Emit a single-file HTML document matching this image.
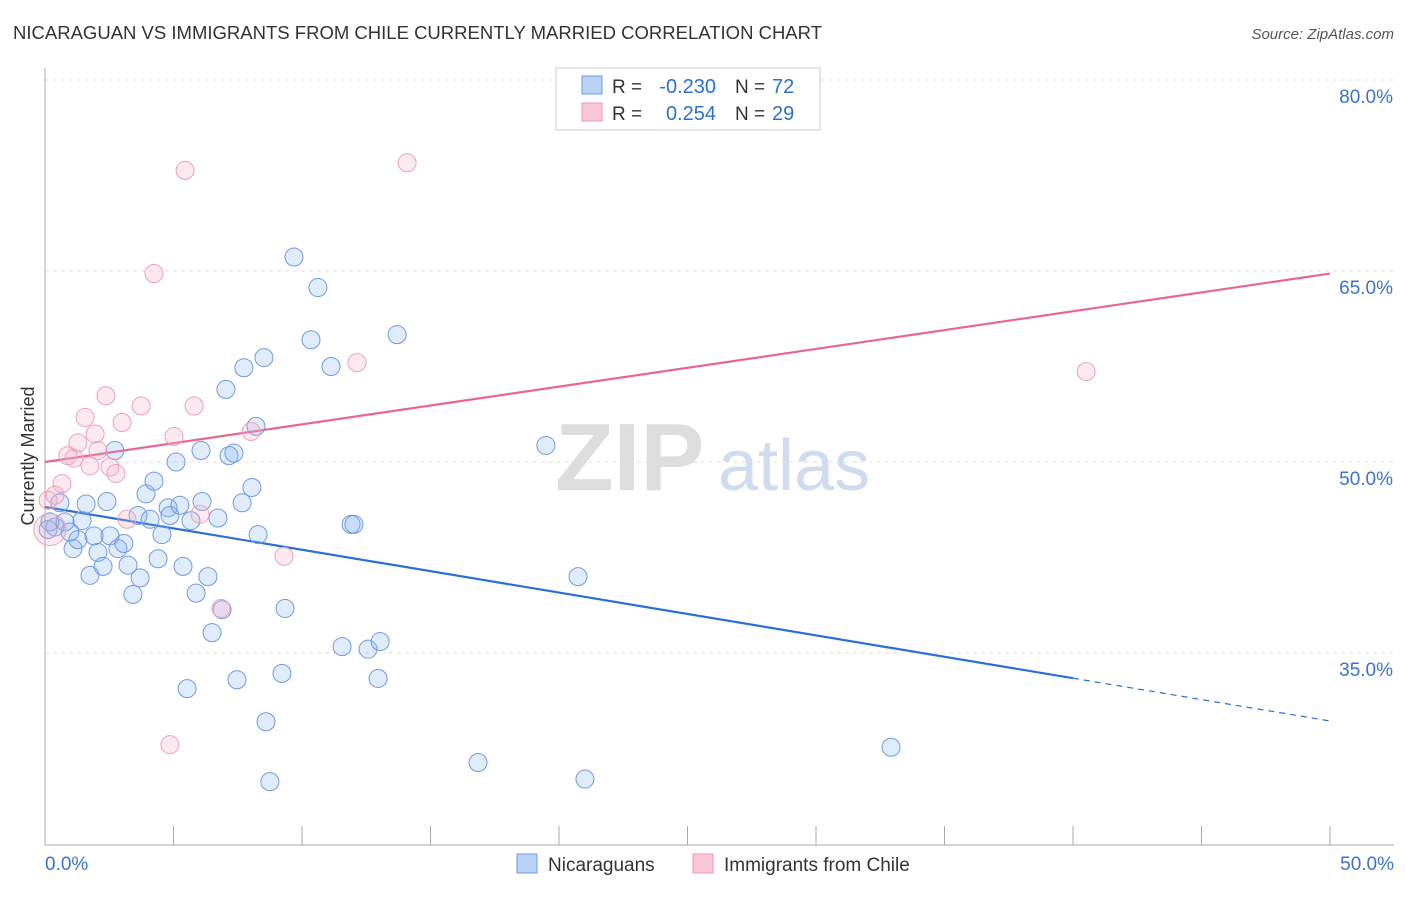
<!DOCTYPE html>
<html><head><meta charset="utf-8"><style>
body{margin:0;background:#fff;font-family:"Liberation Sans",sans-serif;}
svg text{font-family:"Liberation Sans",sans-serif;}
</style></head><body>
<svg id="chart" width="1406" height="892" xmlns="http://www.w3.org/2000/svg">
<text x="13" y="39" font-size="18" fill="#333" textLength="809" lengthAdjust="spacingAndGlyphs">NICARAGUAN VS IMMIGRANTS FROM CHILE CURRENTLY MARRIED CORRELATION CHART</text>
<text x="1394" y="39" font-size="15" fill="#555" text-anchor="end" font-style="italic">Source: ZipAtlas.com</text>
<g>
<text x="555" y="490" font-size="96" fill="#ddd" font-family="Liberation Serif" font-weight="bold">ZIP</text>
<text x="718" y="490" font-size="72" fill="#cfdcef">atlas</text>
</g>
<g id="grid"></g>
<g id="axes"></g>
<g id="lines"></g>
<g id="points"></g>
<text transform="translate(34,456) rotate(-90)" font-size="18" fill="#333" text-anchor="middle">Currently Married</text>
<g>
<rect x="556" y="68" width="264" height="62" fill="#fff" stroke="#ccc"/>
<rect x="582" y="76" width="20" height="18" fill="#b9d2f5" stroke="#6f9be0"/>
<rect x="582" y="103" width="20" height="18" fill="#f9c6d5" stroke="#eb9ab3"/>
<text x="612" y="93" font-size="19" fill="#333">R =</text>
<text x="716" y="93" font-size="20" fill="#2a6fd6" text-anchor="end">-0.230</text>
<text x="735" y="93" font-size="19" fill="#333">N =</text>
<text x="772" y="93" font-size="20" fill="#2a6fd6">72</text>
<text x="612" y="120" font-size="19" fill="#333">R =</text>
<text x="716" y="120" font-size="20" fill="#2a6fd6" text-anchor="end">0.254</text>
<text x="735" y="120" font-size="19" fill="#333">N =</text>
<text x="772" y="120" font-size="20" fill="#2a6fd6">29</text>
</g>
<g>
<rect x="517" y="854" width="20" height="19" fill="#b9d2f5" stroke="#6f9be0"/>
<text x="548" y="871" font-size="19" fill="#333">Nicaraguans</text>
<rect x="693" y="854" width="20" height="19" fill="#f9c6d5" stroke="#eb9ab3"/>
<text x="724" y="871" font-size="19" fill="#333">Immigrants from Chile</text>
</g>
</svg>
<script>
const yTicks=[80,65,50,35];
const yTickLabels=["80.0%","65.0%","50.0%","35.0%"];
const xTickLabels=["0.0%","50.0%"];
const blueX=[0.39,0.58,0.78,0.97,1.09,1.28,1.44,1.60,1.75,1.91,2.06,2.26,2.41,2.53,2.72,2.84,3.07,3.23,3.42,3.70,3.62,3.93,4.09,4.24,4.40,4.55,4.79,4.86,5.10,5.25,5.37,5.53,5.68,5.88,6.07,6.11,6.34,6.50,6.73,6.89,7.04,7.16,7.35,7.47,7.67,7.74,8.05,8.21,8.29,8.52,8.60,8.75,9.22,9.34,9.69,10.35,10.62,11.13,11.56,11.91,12.02,12.57,12.96,13.04,13.70,16.85,19.49,20.74,21.01,32.92,0.19,0.12];
const blueY=[44.9,46.8,45.3,44.5,43.2,43.9,45.4,46.7,41.1,44.2,42.9,41.8,46.9,44.2,50.9,43.2,43.6,41.9,39.6,40.9,45.8,47.5,45.5,48.5,42.4,44.3,46.4,45.8,50.0,46.6,41.8,32.2,45.4,39.7,50.9,46.9,41.0,36.6,45.6,38.4,55.7,50.5,50.7,32.9,46.8,57.4,48.0,52.8,44.3,58.2,29.6,24.9,33.4,38.5,66.1,59.6,63.7,57.5,35.5,45.1,45.1,35.3,33.0,35.9,60.0,26.4,51.3,41.0,25.1,27.6,45.3,44.7];
const pinkX=[0.19,0.39,0.66,0.89,1.13,1.28,1.56,1.75,1.95,2.06,2.37,2.53,2.76,3.00,3.19,3.74,4.24,5.02,4.86,5.45,5.80,6.03,6.85,8.02,9.30,12.14,14.09,40.51,0.12];
const pinkY=[44.7,47.4,48.3,50.5,50.3,51.5,53.5,49.7,52.2,50.9,55.2,49.6,49.1,53.1,45.5,54.4,64.8,52.0,27.8,72.9,54.4,45.9,38.5,52.4,42.6,57.8,73.5,57.1,47.0];
const blueTrend=[46.47,29.66];
const pinkTrend=[50.0,64.8];
const NS="http://www.w3.org/2000/svg";
const X=v=>45+v*25.7;
const Y=v=>80+(80-v)*191/15;
function mk(tag,attrs,parent){const e=document.createElementNS(NS,tag);for(const k in attrs)e.setAttribute(k,attrs[k]);parent.appendChild(e);return e;}
const grid=document.getElementById('grid'),axes=document.getElementById('axes'),lines=document.getElementById('lines'),pts=document.getElementById('points');
yTicks.forEach((t,i)=>{
 const l=mk('line',{x1:45,x2:1394,y1:Y(t),y2:Y(t),stroke:'#ddd','stroke-dasharray':'4,4'},grid);
 
 
 const tx=mk('text',{x:1393,y:Y(t)+23,'font-size':19,fill:'#3b73d1','text-anchor':'end'},grid);
 tx.textContent=yTickLabels[i];
 
 
});
mk('line',{x1:45,x2:45,y1:68,y2:845,stroke:'#aaa'},axes);
mk('line',{x1:45,x2:1394,y1:845,y2:845,stroke:'#aaa'},axes);
for(let i=0;i<=10;i++){const t=mk('line',{x1:X(i*5),x2:X(i*5),y1:826,y2:845,stroke:'#aaa'},axes);
 
 }
const xl0=mk('text',{x:45,y:870,'font-size':19,fill:'#3b73d1'},axes);xl0.textContent=xTickLabels[0];


const xl1=mk('text',{x:1394,y:870,'font-size':19,fill:'#3b73d1','text-anchor':'end'},axes);xl1.textContent=xTickLabels[1];


function drawPts(xs,ys,fill,stroke,name){xs.forEach((x,i)=>{const c=mk('circle',{cx:X(x),cy:Y(ys[i]),r:(i===0&&name==='chile-point')?16:9,fill:fill,stroke:stroke,'stroke-width':1},pts);
 
 });}
drawPts(blueX,blueY,'rgba(130,175,240,0.25)','#6f9be0','nicaraguan-point');
drawPts(pinkX,pinkY,'rgba(245,170,195,0.25)','#eda0b8','chile-point');
const bEnd=40, b=v=>blueTrend[0]+(blueTrend[1]-blueTrend[0])*v/50;
const bl=mk('line',{x1:X(0),y1:Y(b(0)),x2:X(bEnd),y2:Y(b(bEnd)),stroke:'#2a6fd6','stroke-width':2.2},lines);


const bd=mk('line',{x1:X(bEnd),y1:Y(b(bEnd)),x2:X(50),y2:Y(b(50)),stroke:'#2a6fd6','stroke-width':1.2,'stroke-dasharray':'6,5'},lines);


const pl=mk('line',{x1:X(0),y1:Y(pinkTrend[0]),x2:X(50),y2:Y(pinkTrend[1]),stroke:'#e8678f','stroke-width':2.2},lines);


</script>
</body></html>
